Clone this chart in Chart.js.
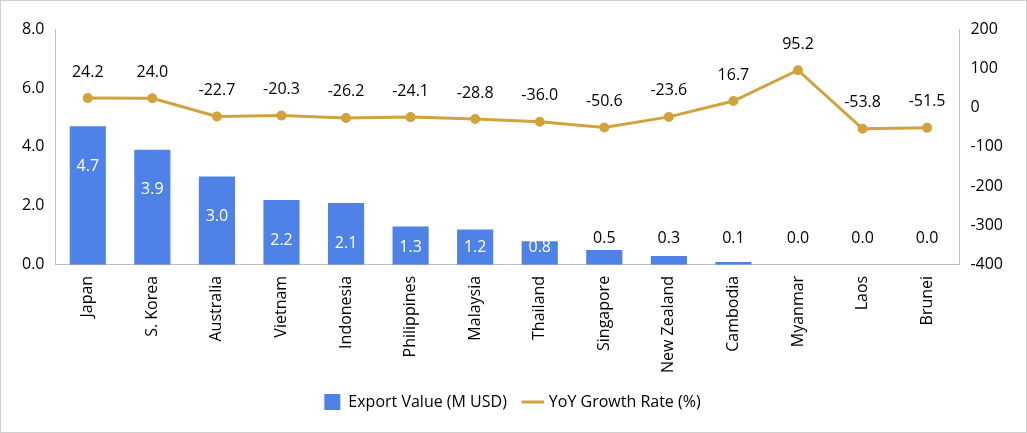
<!DOCTYPE html>
<html>
<head>
<meta charset="utf-8">
<script src="https://cdn.jsdelivr.net/npm/chart.js@4/dist/chart.umd.min.js"></script>
<style>
  html, body { margin: 0; padding: 0; background: #fff; }
  #wrap { width: 1025px; height: 431px; border: 1px solid #d0d0d0; }
</style>
</head>
<body>
<div id="wrap"><canvas id="c" width="1025" height="431"></canvas></div>
<script>
// chart data
const countries = ["Japan", "S. Korea", "Australia", "Vietnam", "Indonesia", "Philippines", "Malaysia",
    "Thailand", "Singapore", "New Zealand", "Cambodia", "Myanmar", "Laos", "Brunei"];
const exportValues = [4.7, 3.9, 3.0, 2.2, 2.1, 1.3, 1.2, 0.8, 0.5, 0.3, 0.1, 0.0, 0.0, 0.0];
const growthRates = [24.2, 24.0, -22.7, -20.3, -26.2, -24.1, -28.8, -36.0, -50.6, -23.6, 16.7, 95.2, -53.8, -51.5];

const FONT = "'Open Sans', 'Noto Sans', sans-serif";
Chart.defaults.font.family = FONT;
Chart.defaults.color = "#000";

// draws the value labels on bars and points
const valueLabels = {
    id: "valueLabels",
    afterDatasetsDraw(chart) {
        const ctx = chart.ctx;
        const y1 = chart.scales.y;
        ctx.save();
        ctx.font = "16px " + FONT;
        ctx.textAlign = "center";
        ctx.textBaseline = "middle";

        chart.getDatasetMeta(1).data.forEach((bar, i) => {
            const v = exportValues[i];
            if (v >= 0.8) {
                ctx.fillStyle = "#fff";
                ctx.fillText(v.toFixed(1), bar.x, Math.min(bar.y + 40, y1.getPixelForValue(0.6)));
            } else {
                ctx.fillStyle = "#000";
                ctx.fillText(v.toFixed(1), bar.x, y1.getPixelForValue(0.9));
            }
        });

        ctx.fillStyle = "#000";
        chart.getDatasetMeta(0).data.forEach((pt, i) => {
            ctx.fillText(growthRates[i].toFixed(1), pt.x, pt.y - 26);
        });
        ctx.restore();
    }
};

new Chart(document.getElementById("c"), {
    data: {
        labels: countries,
        datasets: [
            {
                type: "line",
                label: "YoY Growth Rate (%)",
                data: growthRates,
                yAxisID: "y2",
                borderColor: "#d2a23c",
                backgroundColor: "#d2a23c",
                borderWidth: 3,
                pointRadius: 3.5,
                pointHoverRadius: 3.5,
                tension: 0,
                order: 0
            },
            {
                type: "bar",
                label: "Export Value (M USD)",
                data: exportValues,
                yAxisID: "y",
                backgroundColor: "#4f82e6",
                categoryPercentage: 1,
                barPercentage: 0.56,
                order: 1
            }
        ]
    },
    options: {
        responsive: false,
        animation: false,
        layout: { padding: { left: 18, right: 20, top: 28, bottom: 12 } },
        plugins: {
            tooltip: { enabled: false },
            legend: {
                position: "bottom",
                labels: {
                    font: { size: 16 },
                    padding: 18,
                    usePointStyle: true,
                    generateLabels(chart) {
                        return [
                            { text: "Export Value (M USD)", fillStyle: "#4f82e6", strokeStyle: "#4f82e6", lineWidth: 0, datasetIndex: 1, pointStyle: "rect" },
                            { text: "YoY Growth Rate (%)", fillStyle: "#d2a23c", strokeStyle: "#d2a23c", lineWidth: 3, datasetIndex: 0, pointStyle: "line" }
                        ];
                    }
                }
            }
        },
        scales: {
            x: {
                grid: { display: false },
                border: { color: "#bfbfbf" },
                ticks: { font: { size: 16 }, minRotation: 90, maxRotation: 90, color: "#000" }
            },
            y: {
                position: "left",
                min: 0, max: 8,
                grid: { display: false },
                border: { color: "#bfbfbf" },
                ticks: { stepSize: 2, font: { size: 16 }, callback: v => v.toFixed(1) }
            },
            y2: {
                position: "right",
                min: -400, max: 200,
                grid: { display: false },
                border: { color: "#bfbfbf" },
                ticks: { stepSize: 100, font: { size: 16 } }
            }
        }
    },
    plugins: [valueLabels]
});
</script>
</body>
</html>
